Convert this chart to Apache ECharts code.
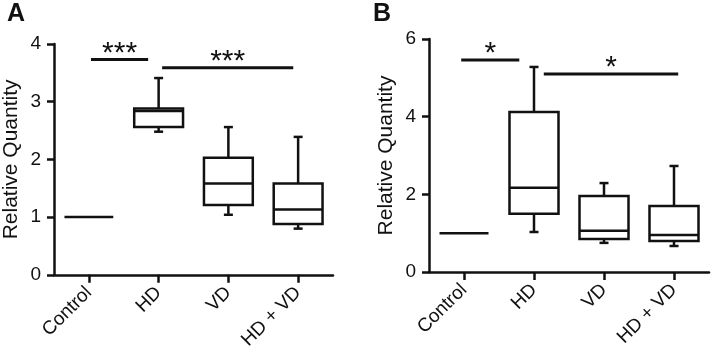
<!DOCTYPE html>
<html>
<head>
<meta charset="utf-8">
<script src="https://cdn.jsdelivr.net/npm/echarts@6/dist/echarts.min.js"></script>
<style>html,body{margin:0;padding:0;background:#fff}#c{width:712px;height:352px}</style>
</head>
<body>
<div id="c"></div>
<script>
// ---- data ----
const categories = ['Control', 'HD', 'VD', 'HD + VD'];
// [low, q1, median, q3, high]
const boxesA = [
  [1, 1, 1, 1, 1],
  [2.48, 2.56, 2.84, 2.88, 3.41],
  [1.04, 1.21, 1.58, 2.03, 2.56],
  [0.80, 0.88, 1.13, 1.58, 2.39]
];
const boxesB = [
  [1, 1, 1, 1, 1],
  [1.03, 1.50, 2.17, 4.12, 5.28],
  [0.75, 0.85, 1.06, 1.96, 2.29],
  [0.67, 0.80, 0.95, 1.70, 2.73]
];
// significance bars: [xStart, xEnd, y, label] (x in category units, 0..4)
const sigA = [
  [0.53, 1.35, 3.73, '***'],
  [1.55, 3.43, 3.59, '***']
];
const sigB = [
  [0.46, 1.29, 5.46, '*'],
  [1.64, 3.56, 5.10, '*']
];
const yTicksA = {min: 0, max: 4, interval: 1};
const yTicksB = {min: 0, max: 6, interval: 2};

const FONT = 'Arial, "Liberation Sans", sans-serif';
const BLACK = '#111';
const LW = 2.5;

function boxRender(params, api) {
  const cat = api.value(0);
  const low = api.value(1), q1 = api.value(2), med = api.value(3), q3 = api.value(4), high = api.value(5);
  const x = api.coord([cat, med])[0];
  const hw = api.size([1, 0])[0] * 0.35;
  const cw = 4.5;
  const yl = api.coord([cat, low])[1], y1 = api.coord([cat, q1])[1], ym = api.coord([cat, med])[1];
  const y3 = api.coord([cat, q3])[1], yh = api.coord([cat, high])[1];
  const st = {stroke: BLACK, lineWidth: LW, fill: null};
  const ch = [];
  if (high !== low) {
    ch.push({type: 'line', shape: {x1: x, y1: y3, x2: x, y2: yh}, style: st});
    ch.push({type: 'line', shape: {x1: x - cw, y1: yh, x2: x + cw, y2: yh}, style: st});
    ch.push({type: 'line', shape: {x1: x, y1: y1, x2: x, y2: yl}, style: st});
    ch.push({type: 'line', shape: {x1: x - cw, y1: yl, x2: x + cw, y2: yl}, style: st});
    ch.push({type: 'rect', shape: {x: x - hw, y: y3, width: hw * 2, height: y1 - y3}, style: {stroke: BLACK, lineWidth: LW, fill: '#fff'}});
  }
  ch.push({type: 'line', shape: {x1: x - hw, y1: ym, x2: x + hw, y2: ym}, style: st});
  return {type: 'group', children: ch};
}

const sigData = {};
function sigRender(params, api) {
  const a = api.coord([api.value(0), api.value(2)]);
  const b = api.coord([api.value(1), api.value(2)]);
  const label = sigData[params.seriesIndex][params.dataIndex][3];
  return {type: 'group', children: [
    {type: 'line', shape: {x1: a[0], y1: a[1], x2: b[0], y2: b[1]}, style: {stroke: BLACK, lineWidth: 3}},
    {type: 'text', x: (a[0] + b[0]) / 2, y: a[1] + 9, style: {text: label, align: 'center', verticalAlign: 'bottom', fontSize: 30, fontFamily: FONT, fill: BLACK}}
  ]};
}

function yAxis(grid, t) {
  return {
    type: 'value', gridIndex: grid, min: t.min, max: t.max, interval: t.interval,
    name: 'Relative Quantity', nameLocation: 'middle', nameGap: 32,
    nameTextStyle: {fontSize: 21, fontFamily: FONT, color: BLACK},
    axisLine: {show: true, lineStyle: {color: BLACK, width: LW}},
    axisTick: {show: true, length: 7, lineStyle: {color: BLACK, width: LW}},
    axisLabel: {fontSize: 19, fontFamily: FONT, color: BLACK, margin: 13},
    splitLine: {show: false}
  };
}
function xAxis(grid) {
  return {
    type: 'category', gridIndex: grid, data: categories,
    axisLine: {show: true, lineStyle: {color: BLACK, width: LW}},
    axisTick: {show: true, alignWithLabel: true, length: 8, lineStyle: {color: BLACK, width: LW}},
    axisLabel: {fontSize: 19, fontFamily: FONT, color: BLACK, rotate: 45, margin: 15, interval: 0}
  };
}
function xHidden(grid) {
  return {type: 'value', gridIndex: grid, min: 0, max: 4, show: false};
}

const boxDataA = boxesA.map((b, i) => [i].concat(b));
const boxDataB = boxesB.map((b, i) => [i].concat(b));

const chart = echarts.init(document.getElementById('c'), null, {renderer: 'canvas'});
const option = {
  backgroundColor: '#fff',
  animation: false,
  grid: [
    {left: 52, top: 44, width: 281, height: 231},
    {left: 429, top: 39, width: 280, height: 233}
  ],
  xAxis: [xAxis(0), xAxis(1), xHidden(0), xHidden(1)],
  yAxis: [yAxis(0, yTicksA), yAxis(1, yTicksB)],
  graphic: [
    {type: 'text', left: 7, top: 2, style: {text: 'A', fontSize: 25, fontWeight: 'bold', fontFamily: FONT, fill: BLACK}},
    {type: 'text', left: 373, top: 2, style: {text: 'B', fontSize: 25, fontWeight: 'bold', fontFamily: FONT, fill: BLACK}}
  ],
  series: [
    {type: 'custom', xAxisIndex: 0, yAxisIndex: 0, data: boxDataA, renderItem: boxRender, encode: {x: 0, y: [1, 2, 3, 4, 5]}},
    {type: 'custom', xAxisIndex: 1, yAxisIndex: 1, data: boxDataB, renderItem: boxRender, encode: {x: 0, y: [1, 2, 3, 4, 5]}},
    {type: 'custom', xAxisIndex: 2, yAxisIndex: 0, data: sigA.map(s => s.slice(0, 3)), renderItem: sigRender, encode: {x: [0, 1], y: 2}},
    {type: 'custom', xAxisIndex: 3, yAxisIndex: 1, data: sigB.map(s => s.slice(0, 3)), renderItem: sigRender, encode: {x: [0, 1], y: 2}}
  ]
};
sigData[2] = sigA;
sigData[3] = sigB;
chart.setOption(option);
</script>
</body>
</html>
